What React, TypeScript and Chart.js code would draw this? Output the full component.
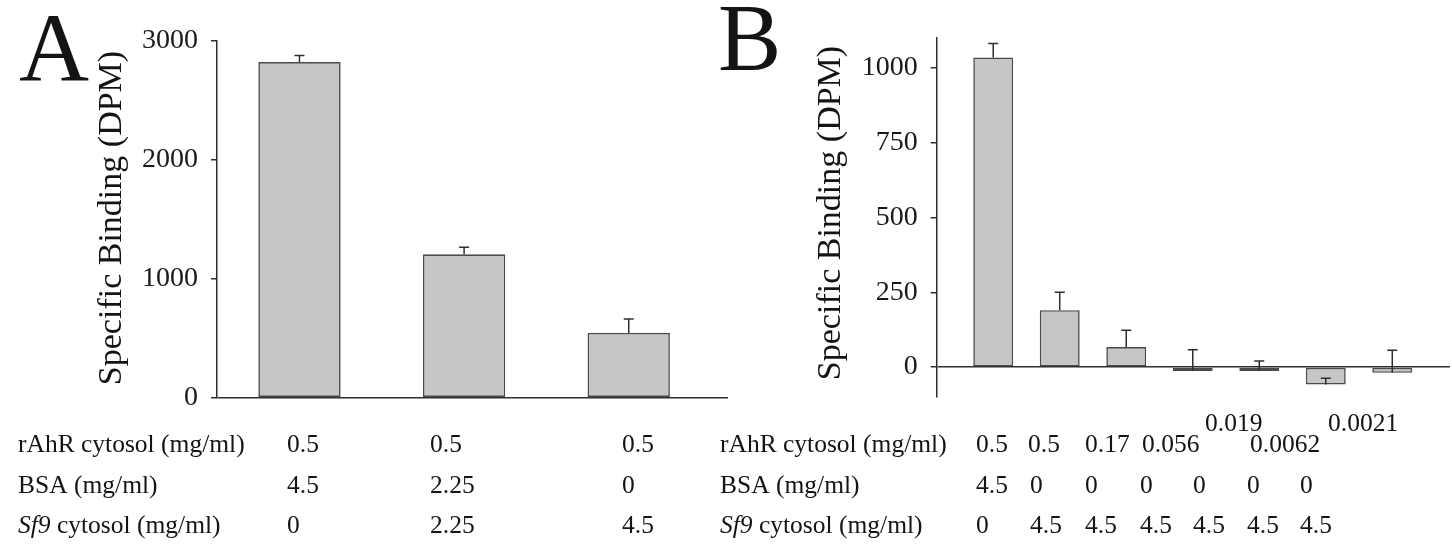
import React, { useEffect, useRef } from "react";
import { Chart, registerables } from "chart.js";

Chart.register(...registerables);

// ---------- Data ----------
const groupsA = [0, 1, 2];
const bindingA = [2820, 1205, 544];
const errorA = [55, 60, 117];
const yTicksA = [0, 1000, 2000, 3000];

const groupsB = [0, 1, 2, 3, 4, 5, 6];
const bindingB = [1035, 190, 67, -13, -13, -58, -19];
const errorB = [47, 60, 56, 71, 33, 21, 75];
const yTicksB = [0, 250, 500, 750, 1000];

const yTitle = "Specific Binding (DPM)";
const rowLabels = ["rAhR cytosol (mg/ml)", "BSA (mg/ml)", "cytosol (mg/ml)"];
const rowItalicPrefix = ["", "", "Sf9"];

const rahrA = ["0.5", "0.5", "0.5"];
const bsaA = ["4.5", "2.25", "0"];
const sf9A = ["0", "2.25", "4.5"];

const rahrB = ["0.5", "0.5", "0.17", "0.056", "0.019", "0.0062", "0.0021"];
const raisedB = [false, false, false, false, true, false, true];
const bsaB = ["4.5", "0", "0", "0", "0", "0", "0"];
const sf9B = ["0", "4.5", "4.5", "4.5", "4.5", "4.5", "4.5"];

// ---------- Styles ----------
const SERIF = "'Liberation Serif', 'Times New Roman', serif";
const AXIS = "#2e2e2e";
const BAR_FILL = "#c6c6c8";
const BAR_EDGE = "#4a4a4a";
const TEXT = "#141414";
const SCALE_W = 110;

type TextItem = { text: string; x: number; y: number; size: number; italic?: boolean; rotate?: boolean; align?: CanvasTextAlign };

function textPlugin(items: TextItem[]) {
  return {
    id: "textItems",
    afterDraw(chart: any) {
      const ctx = chart.ctx as CanvasRenderingContext2D;
      ctx.save();
      ctx.fillStyle = TEXT;
      ctx.textBaseline = "alphabetic";
      items.forEach((it) => {
        ctx.save();
        ctx.font = `${it.italic ? "italic " : ""}${it.size}px ${SERIF}`;
        ctx.textAlign = it.align || "left";
        ctx.translate(it.x, it.y);
        if (it.rotate) ctx.rotate(-Math.PI / 2);
        ctx.fillText(it.text, 0, 0);
        ctx.restore();
      });
      ctx.restore();
    },
  };
}

function rowLabelItems(x0: number, baselines: number[], size: number): TextItem[] {
  const items: TextItem[] = [];
  const c = document.createElement("canvas").getContext("2d")!;
  rowLabels.forEach((lab, r) => {
    const pre = rowItalicPrefix[r];
    let x = x0;
    if (pre) {
      items.push({ text: pre, x, y: baselines[r], size, italic: true });
      c.font = `italic ${size}px ${SERIF}`;
      x += c.measureText(pre + " ").width;
    }
    items.push({ text: lab, x, y: baselines[r], size });
  });
  return items;
}

function errorBarPlugin(values: number[], errors: number[], cap: number) {
  return {
    id: "errorBars",
    afterDatasetsDraw(chart: any) {
      const meta = chart.getDatasetMeta(0);
      const ys = chart.scales.y;
      const ctx = chart.ctx as CanvasRenderingContext2D;
      ctx.save();
      ctx.strokeStyle = AXIS;
      ctx.lineWidth = 1.5;
      meta.data.forEach((bar: any, i: number) => {
        const x = bar.x;
        const y0 = ys.getPixelForValue(values[i]);
        const y1 = ys.getPixelForValue(values[i] + errors[i]);
        ctx.beginPath();
        ctx.moveTo(x, y0);
        ctx.lineTo(x, y1);
        ctx.moveTo(x - cap / 2, y1);
        ctx.lineTo(x + cap / 2, y1);
        ctx.stroke();
      });
      ctx.restore();
    },
  };
}

function makeConfig(opts: {
  groups: number[];
  values: number[];
  errors: number[];
  yTicks: number[];
  yMin: number;
  yMax: number;
  xMin: number;
  xMax: number;
  barPct: number;
  padding: { left: number; right: number; top: number; bottom: number };
  texts: TextItem[];
}): any {
  return {
    type: "bar",
    data: {
      datasets: [
        {
          data: opts.groups.map((g, i) => ({ x: g, y: opts.values[i] })),
          backgroundColor: BAR_FILL,
          borderColor: BAR_EDGE,
          borderWidth: 1.6,
          borderSkipped: false,
          categoryPercentage: 1,
          barPercentage: opts.barPct,
        },
      ],
    },
    options: {
      responsive: false,
      animation: false,
      events: [],
      layout: { padding: opts.padding },
      plugins: { legend: { display: false }, tooltip: { enabled: false }, title: { display: false } },
      scales: {
        x: {
          type: "linear",
          display: false,
          min: opts.xMin,
          max: opts.xMax,
          offset: false,
          afterBuildTicks: (s: any) => {
            s.ticks = opts.groups.map((g) => ({ value: g }));
          },
        },
        y: {
          type: "linear",
          min: opts.yMin,
          max: opts.yMax,
          afterFit: (s: any) => {
            s.width = SCALE_W;
          },
          afterBuildTicks: (s: any) => {
            s.ticks = opts.yTicks.map((v) => ({ value: v }));
          },
          border: { display: true, color: AXIS, width: 1.5 },
          grid: {
            drawOnChartArea: true,
            color: (c: any) => (c.tick && c.tick.value === 0 ? AXIS : "rgba(0,0,0,0)"),
            tickColor: AXIS,
            lineWidth: 1.5,
            tickLength: 6,
          },
          ticks: {
            color: "#1a1a1a",
            padding: 13,
            font: { family: SERIF, size: 28 },
            callback: (v: any) => String(v),
          },
        },
      },
    },
    plugins: [errorBarPlugin(opts.values, opts.errors, 10), textPlugin(opts.texts)],
  };
}

const ROWS = [452, 492.5, 533];
const FS = 25.5;

function textsA(): TextItem[] {
  const cols = [287, 430, 622];
  const items: TextItem[] = [
    { text: "A", x: 19, y: 80, size: 97 },
    { text: yTitle, x: 121, y: 218, size: 34, rotate: true, align: "center" },
    ...rowLabelItems(18, ROWS, FS),
  ];
  [rahrA, bsaA, sf9A].forEach((row, r) =>
    row.forEach((t, i) => items.push({ text: t, x: cols[i], y: ROWS[r], size: FS }))
  );
  return items;
}

function textsB(): TextItem[] {
  const cols1 = [976, 1028, 1085, 1142, 1205, 1250, 1328];
  const cols = [976, 1030, 1085, 1140, 1193, 1247, 1300];
  const items: TextItem[] = [
    { text: "B", x: 718, y: 70, size: 95 },
    { text: yTitle, x: 840, y: 213, size: 34, rotate: true, align: "center" },
    ...rowLabelItems(720, ROWS, FS),
  ];
  rahrB.forEach((t, i) => items.push({ text: t, x: cols1[i], y: raisedB[i] ? ROWS[0] - 21 : ROWS[0], size: FS }));
  [bsaB, sf9B].forEach((row, r) =>
    row.forEach((t, i) => items.push({ text: t, x: cols[i], y: ROWS[r + 1], size: FS }))
  );
  return items;
}

export default function App() {
  const refA = useRef<HTMLCanvasElement>(null);
  const refB = useRef<HTMLCanvasElement>(null);

  useEffect(() => {
    const chartA = new Chart(
      refA.current!,
      makeConfig({
        groups: groupsA,
        values: bindingA,
        errors: errorA,
        yTicks: yTicksA,
        yMin: 0,
        yMax: 3000,
        xMin: -0.501,
        xMax: 2.603,
        barPct: 0.5,
        padding: { left: 217 - SCALE_W, right: 724, top: 40.7, bottom: 156.3 },
        texts: textsA(),
      })
    );
    const chartB = new Chart(
      refB.current!,
      makeConfig({
        groups: groupsB,
        values: bindingB,
        errors: errorB,
        yTicks: yTicksB,
        yMin: -100,
        yMax: 1100,
        xMin: -0.85,
        xMax: 6.868,
        barPct: 0.6,
        padding: { left: 936.7 - SCALE_W, right: 2, top: 38, bottom: 157 },
        texts: textsB(),
      })
    );
    return () => {
      chartA.destroy();
      chartB.destroy();
    };
  }, []);

  const style: React.CSSProperties = { position: "fixed", left: 0, top: 0, width: 1452, height: 554 };
  return (
    <div style={{ position: "fixed", left: 0, top: 0, width: 1452, height: 554, background: "#fff" }}>
      <canvas ref={refA} width={1452} height={554} style={style} />
      <canvas ref={refB} width={1452} height={554} style={style} />
    </div>
  );
}
